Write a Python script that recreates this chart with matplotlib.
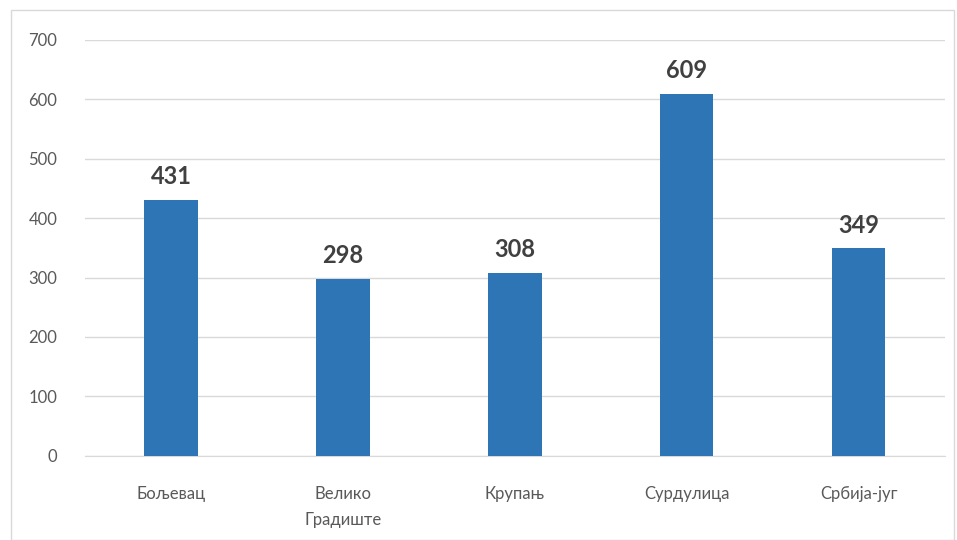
import matplotlib.pyplot as plt
from matplotlib.patches import Rectangle

# Data
places = ['Бољевац', 'Велико\nГрадиште', 'Крупањ', 'Сурдулица', 'Србија-југ']
values = [431, 298, 308, 609, 349]
yticks = [0, 100, 200, 300, 400, 500, 600, 700]

plt.rcParams['font.family'] = ['Lato', 'DejaVu Sans']

fig = plt.figure(figsize=(9.57, 5.4), dpi=100)
ax = fig.add_axes([0.089, 0.156, 0.898, 0.77])

# light frame around the chart
fig.patches.append(Rectangle((0.012, 0.0), 0.985, 0.982, transform=fig.transFigure,
                             fill=False, edgecolor='#d9d9d9', linewidth=1))

x = range(len(places))
bars = ax.bar(x, values, width=0.31, color='#2e75b6', zorder=3)

for xi, v in zip(x, values):
    ax.text(xi, v + 20, str(v), ha='center', va='bottom', fontsize=17,
            fontweight='bold', color='#404040')

ax.set_xlim(-0.5, 4.5)
ax.set_ylim(0, 700)
ax.set_yticks(yticks)
ax.set_xticks(list(x))
ax.set_xticklabels(places, fontsize=12, color='#595959', linespacing=1.75)
ax.tick_params(axis='y', labelsize=12, labelcolor='#595959', length=0, pad=20)
ax.tick_params(axis='x', length=0, pad=22)
ax.grid(axis='y', color='#d9d9d9', linewidth=1, zorder=0)
for s in ['top', 'right', 'left']:
    ax.spines[s].set_visible(False)
ax.spines['bottom'].set_color('#d9d9d9')

fig.savefig('out.png', dpi=100)
